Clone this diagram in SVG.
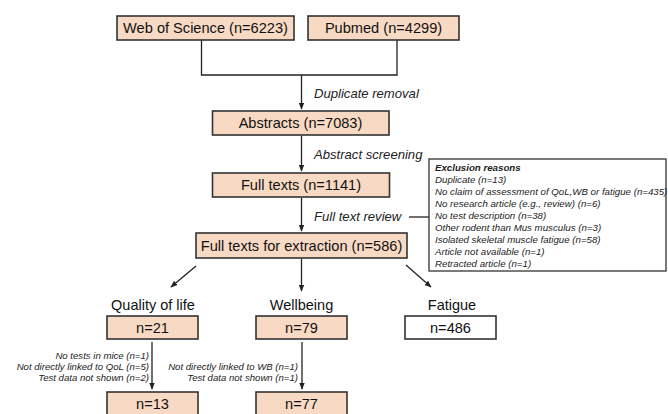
<svg xmlns="http://www.w3.org/2000/svg" width="668" height="414" viewBox="0 0 668 414">
<defs>
<marker id="ah" viewBox="0 0 10 10" refX="9" refY="5" markerWidth="7" markerHeight="7" orient="auto" markerUnits="userSpaceOnUse">
<path d="M0,1 L10,5 L0,9 z" fill="#222"/>
</marker>
<style>
.box{fill:#f8dac4;stroke:#333;stroke-width:1.6}
.wbox{fill:#fff;stroke:#333;stroke-width:1.6}
.t{font-family:"Liberation Sans",Arial,sans-serif;font-size:14.6px;fill:#111;text-anchor:middle}
.h{font-family:"Liberation Sans",Arial,sans-serif;font-size:14.5px;fill:#111;text-anchor:middle}
.lbl{font-family:"Liberation Sans",Arial,sans-serif;font-size:13.1px;font-style:italic;fill:#222}
.ex{font-family:"Liberation Sans",Arial,sans-serif;font-size:9.7px;font-style:italic;fill:#222}
.note{font-family:"Liberation Sans",Arial,sans-serif;font-size:9.6px;font-style:italic;fill:#222;text-anchor:end}
.c{fill:none;stroke:#222;stroke-width:1.3}
</style>
</defs>
<rect width="668" height="414" fill="#fff"/>

<g id="connectors">
<path class="c" d="M201.5,40 V75 H397 V40"/>
<path class="c" d="M301.5,75 V109" marker-end="url(#ah)"/>
<path class="c" d="M301.5,136 V171" marker-end="url(#ah)"/>
<path class="c" d="M301.5,198 V231" marker-end="url(#ah)"/>
<path class="c" d="M409,217 H429"/>
<path class="c" d="M196,266 L171,287" marker-end="url(#ah)"/>
<path class="c" d="M301.5,259 V291" marker-end="url(#ah)"/>
<path class="c" d="M406,265 L431,287" marker-end="url(#ah)"/>
<path class="c" d="M152,342 V389" marker-end="url(#ah)"/>
<path class="c" d="M302,342 V389" marker-end="url(#ah)"/>
<text class="lbl" x="314" y="98">Duplicate removal</text>
<text class="lbl" x="314" y="159">Abstract screening</text>
<text class="lbl" x="314" y="221">Full text review</text>
<text class="note" x="149" y="358.5">No tests in mice (n=1)</text>
<text class="note" x="149" y="369.5">Not directly linked to QoL (n=5)</text>
<text class="note" x="149" y="380.5">Test data not shown (n=2)</text>
<text class="note" x="298" y="369.5">Not directly linked to WB (n=1)</text>
<text class="note" x="298" y="380.5">Test data not shown (n=1)</text>
</g>

<g id="wos"><rect class="box" x="117" y="16" width="177" height="24"/><text class="t" x="205.5" y="33">Web of Science (n=6223)</text></g>
<g id="pubmed"><rect class="box" x="308" y="16" width="151" height="24"/><text class="t" x="383.5" y="33">Pubmed (n=4299)</text></g>
<g id="abstracts"><rect class="box" x="212.5" y="111" width="176.5" height="24"/><text class="t" x="300.5" y="128">Abstracts (n=7083)</text></g>
<g id="fulltexts"><rect class="box" x="212.5" y="173" width="177" height="24"/><text class="t" x="301" y="190">Full texts (n=1141)</text></g>
<g id="extraction"><rect class="box" x="196" y="233" width="211" height="25"/><text class="t" x="301.5" y="251">Full texts for extraction (n=586)</text></g>

<g id="exclusion">
<rect class="wbox" x="429" y="159" width="237" height="112" style="stroke-width:1.3"/>
<text class="ex" x="435" y="171" style="font-weight:bold">Exclusion reasons</text>
<text class="ex" x="435" y="183">Duplicate (n=13)</text>
<text class="ex" x="435" y="195">No claim of assessment of QoL,WB or fatigue (n=435)</text>
<text class="ex" x="435" y="207">No research article (e.g., review) (n=6)</text>
<text class="ex" x="435" y="219">No test description (n=38)</text>
<text class="ex" x="435" y="231">Other rodent than Mus musculus (n=3)</text>
<text class="ex" x="435" y="243">Isolated skeletal muscle fatigue (n=58)</text>
<text class="ex" x="435" y="255">Article not available (n=1)</text>
<text class="ex" x="435" y="267">Retracted article (n=1)</text>
</g>

<g id="qol">
<text class="h" x="153" y="310">Quality of life</text>
<rect class="box" x="107" y="316" width="91" height="23"/><text class="t" x="152.5" y="333">n=21</text>
</g>
<g id="wb">
<text class="h" x="301.5" y="310">Wellbeing</text>
<rect class="box" x="256" y="316" width="91" height="23"/><text class="t" x="301.5" y="333">n=79</text>
</g>
<g id="fatigue">
<text class="h" x="452" y="310">Fatigue</text>
<rect class="wbox" x="405" y="316" width="91" height="23"/><text class="t" x="450.5" y="333">n=486</text>
</g>
<g id="qol2"><rect class="box" x="107" y="392" width="91" height="30"/><text class="t" x="152.5" y="409">n=13</text></g>
<g id="wb2"><rect class="box" x="256" y="392" width="91" height="30"/><text class="t" x="301.5" y="409">n=77</text></g>
</svg>
